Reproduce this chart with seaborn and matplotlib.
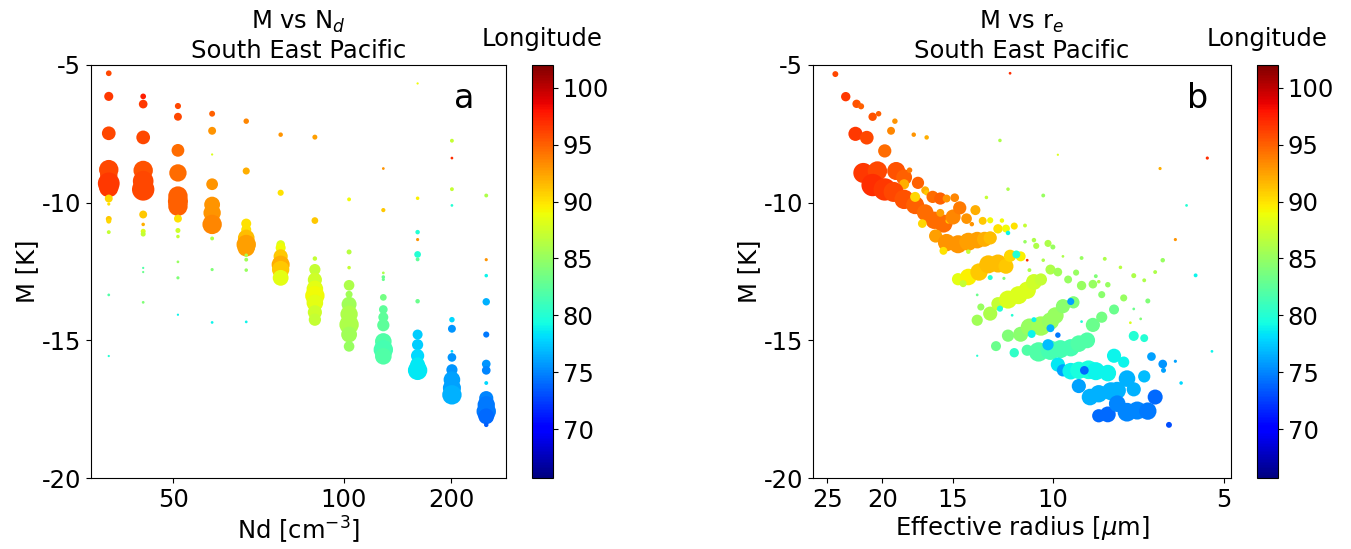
import numpy as np
import pandas as pd
import matplotlib
matplotlib.use("Agg")
import matplotlib.pyplot as plt
import matplotlib.ticker as mticker
import seaborn as sns

plt.rcParams['axes.unicode_minus'] = False
plt.rcParams['font.family'] = ['DejaVu Sans']

# ---------------- data: panel a (M vs Nd) ----------------
nd_bins = [41.1, 45.5, 50.8, 57.1, 64.8, 74.5, 86.8, 102.9, 124.7, 155.5, 201.5, 275.7]

# per Nd bin: (M, count-size, longitude)
a_bin0 = [(-5.30, 13, 96), (-6.14, 33, 96.5), (-7.48, 75, 96), (-8.80, 150, 96), (-9.00, 120, 96),
          (-9.30, 190, 96.5), (-9.45, 150, 96.5), (-9.85, 25, 90.5), (-10.05, 4, 90), (-10.59, 14, 91),
          (-10.67, 10, 90.5), (-11.07, 6, 87), (-13.35, 3, 82), (-15.57, 2, 80)]
a_bin1 = [(-6.14, 13, 97.5), (-6.42, 30, 96.5), (-7.63, 75, 96), (-8.83, 150, 95.5), (-9.22, 170, 96),
          (-9.52, 200, 96), (-10.43, 25, 91), (-10.79, 5, 92), (-11.04, 10, 88), (-11.14, 10, 87),
          (-12.37, 2, 82), (-12.52, 2, 83), (-13.62, 3, 84)]
a_bin2 = [(-6.49, 15, 96), (-6.88, 25, 96), (-8.10, 65, 94.5), (-8.92, 120, 94.5), (-9.76, 150, 95),
          (-9.95, 160, 95), (-10.13, 150, 95), (-10.58, 25, 90), (-11.01, 10, 87.5), (-11.23, 5, 87),
          (-12.15, 3, 85), (-12.73, 4, 84), (-14.07, 2, 79)]
a_bin3 = [(-6.77, 14, 95), (-7.39, 25, 93), (-8.25, 2, 88), (-9.33, 55, 93), (-10.07, 100, 93),
          (-10.37, 120, 93), (-10.79, 150, 93.5), (-11.30, 6, 86), (-12.43, 4, 84), (-14.35, 3, 79)]
a_bin4 = [(-7.04, 12, 93.5), (-8.85, 20, 92), (-10.76, 40, 90), (-10.98, 40, 90), (-11.28, 110, 91.5),
          (-11.52, 150, 92.5), (-11.64, 120, 92.5), (-11.91, 5, 86), (-12.07, 6, 85.5), (-12.45, 5, 85),
          (-14.33, 3, 79)]
a_bin5 = [(-7.53, 8, 93), (-9.64, 15, 90), (-11.52, 30, 88), (-11.64, 40, 89), (-11.95, 80, 91),
          (-12.25, 130, 92), (-12.43, 120, 91), (-12.73, 100, 88.5)]
a_bin6 = [(-7.62, 10, 92.5), (-10.65, 18, 91), (-12.03, 8, 87), (-12.43, 50, 87), (-12.80, 80, 87.5),
          (-13.13, 110, 88.5), (-13.38, 150, 89), (-13.64, 110, 88.5), (-13.98, 80, 87.5), (-14.25, 60, 87)]
a_bin7 = [(-9.88, 6, 89), (-11.79, 10, 86.5), (-12.36, 5, 87), (-13.00, 45, 86), (-13.33, 20, 85.5),
          (-13.69, 90, 85.5), (-14.05, 120, 86), (-14.43, 150, 86), (-14.79, 100, 85.5), (-15.22, 45, 85)]
a_bin8 = [(-8.76, 3, 93), (-10.27, 7, 91), (-12.55, 3, 86), (-12.70, 5, 83), (-12.79, 4, 83),
          (-13.44, 18, 83.5), (-13.88, 30, 82.5), (-14.16, 40, 82.5), (-14.45, 60, 82.5), (-15.04, 110, 82),
          (-15.34, 150, 81.5), (-15.58, 110, 82)]
a_bin9 = [(-5.67, 2, 89), (-9.84, 5, 89.5), (-11.07, 8, 80), (-11.34, 4, 93), (-11.88, 18, 80),
          (-12.06, 6, 82.5), (-13.58, 8, 83), (-14.79, 40, 77.5), (-15.16, 50, 77.5), (-15.56, 70, 78),
          (-15.89, 90, 78.5), (-16.09, 150, 78.5)]
a_bin10 = [(-7.75, 6, 87), (-8.38, 3, 97), (-9.51, 6, 87), (-10.10, 3, 80), (-14.25, 12, 78),
           (-14.58, 25, 75.5), (-15.40, 3, 78), (-15.62, 30, 75.5), (-16.07, 50, 75.5), (-16.43, 110, 76),
           (-16.73, 130, 76), (-16.98, 150, 76.5)]
a_bin11 = [(-9.74, 6, 86), (-12.07, 4, 93), (-12.65, 5, 79), (-13.60, 22, 76.5), (-14.79, 15, 74.5),
           (-15.86, 30, 75.5), (-16.09, 30, 75), (-16.55, 6, 78), (-17.10, 80, 75), (-17.34, 120, 74.5),
           (-17.58, 150, 74.5), (-17.76, 100, 74), (-18.07, 8, 73.5)]
a_bins = [a_bin0, a_bin1, a_bin2, a_bin3, a_bin4, a_bin5, a_bin6, a_bin7, a_bin8, a_bin9, a_bin10, a_bin11]

# ---------------- data: panel b (M vs re) ----------------
# (re [um], M [K], count-size, longitude)
b_points = [
    (24.2, -5.33, 14, 96), (23.2, -6.15, 35, 96.5), (22.2, -6.41, 28, 95.5), (21.8, -6.50, 15, 95),
    (20.8, -6.88, 28, 95.5), (20.3, -6.77, 12, 95), (19.0, -7.04, 12, 93), (19.3, -7.39, 25, 93.5),
    (22.3, -7.50, 80, 96.5), (21.3, -7.64, 75, 96), (17.6, -7.53, 8, 93), (16.7, -7.63, 8, 92),
    (19.8, -8.12, 70, 94.5), (12.4, -7.74, 5, 86), (11.9, -5.30, 3, 97), (9.80, -8.26, 2, 88),
    (5.34, -8.38, 4, 97), (6.47, -8.76, 4, 92), (5.81, -10.10, 3, 80), (6.08, -11.34, 4, 93),
    (5.60, -12.64, 6, 79), (5.24, -15.40, 3, 79), (6.08, -15.76, 4, 76), (5.94, -16.55, 5, 78),
    (6.38, -16.09, 10, 76), (6.24, -18.07, 14, 73),
    # band 1
    (21.6, -8.92, 160, 96.5), (20.4, -8.85, 150, 96), (20.8, -9.36, 200, 97), (19.8, -9.52, 200, 96.5),
    (18.9, -8.85, 130, 95.5), (18.3, -9.08, 100, 95), (17.9, -8.82, 12, 94), (18.3, -9.33, 40, 92),
    (19.1, -9.61, 160, 96), (18.3, -9.88, 150, 95.5), (17.3, -9.28, 60, 95), (17.5, -10.09, 130, 95),
    (16.8, -9.55, 25, 92), (16.7, -9.64, 12, 91), (16.3, -9.79, 60, 94.5), (15.8, -9.85, 60, 95),
    (15.4, -9.85, 25, 93), (14.9, -9.82, 30, 93.5), (16.8, -10.36, 110, 94.5), (16.2, -10.64, 120, 94.5),
    (15.6, -10.76, 130, 94.5), (15.8, -10.37, 25, 92.5), (15.3, -10.66, 12, 91), (17.0, -10.76, 30, 90.5),
    (15.0, -10.52, 90, 93.5), (14.6, -10.19, 70, 94), (14.2, -10.58, 45, 93), (13.7, -10.27, 40, 92),
    (13.3, -10.66, 25, 91), (13.9, -10.78, 8, 93), (17.5, -9.79, 40, 90.5),
    # band 2
    (16.1, -11.21, 70, 92.5), (15.4, -11.45, 120, 93), (14.7, -11.51, 130, 93), (14.1, -11.42, 130, 92.5),
    (13.6, -11.36, 110, 92.5), (13.2, -11.33, 90, 92), (12.9, -11.28, 70, 91.5), (15.6, -11.75, 25, 90),
    (14.1, -11.78, 8, 87), (12.9, -10.64, 15, 89), (12.5, -10.95, 35, 90), (12.1, -10.94, 25, 89),
    (11.7, -10.85, 20, 90), (12.3, -10.65, 8, 89), (11.2, -10.83, 6, 87), (12.0, -11.10, 8, 79),
    (13.1, -9.81, 5, 87), (12.0, -9.51, 5, 86), (10.4, -9.74, 6, 85),
    # band 3
    (14.7, -12.78, 60, 88.5), (14.1, -12.70, 110, 89.5), (13.5, -12.52, 120, 91), (13.0, -12.24, 130, 91.5),
    (12.5, -12.21, 130, 91.5), (12.1, -12.31, 90, 91), (11.9, -11.93, 60, 90.5), (11.4, -11.95, 40, 89.5),
    (11.6, -11.88, 25, 80), (12.9, -12.72, 10, 80), (14.4, -12.94, 20, 87), (12.2, -12.75, 4, 84),
    (11.2, -11.42, 5, 85), (10.8, -11.36, 8, 86), (10.7, -11.57, 15, 86), (10.2, -11.48, 20, 86),
    (10.0, -11.61, 10, 85), (11.1, -12.09, 3, 97), (11.0, -12.45, 6, 86), (10.4, -12.09, 5, 86),
    (10.1, -12.43, 40, 86), (9.8, -12.52, 30, 85.5), (9.6, -11.95, 3, 86), (8.9, -12.01, 6, 85),
    (8.1, -12.04, 6, 86), (7.6, -12.35, 5, 86.5), (9.4, -12.79, 25, 85), (9.1, -12.54, 15, 85),
    (8.4, -12.67, 6, 84), (7.2, -12.65, 10, 86), (6.9, -12.82, 6, 86), (6.6, -12.52, 6, 86),
    (6.4, -12.09, 8, 85), (8.9, -13.01, 35, 85), (8.5, -12.96, 30, 85), (8.3, -12.87, 5, 86),
    (8.0, -12.98, 12, 85),
    # band 4
    (13.6, -14.27, 50, 85.5), (12.9, -14.03, 80, 86), (12.5, -13.67, 70, 87), (12.0, -13.52, 130, 88),
    (11.5, -13.36, 130, 88), (11.1, -13.18, 120, 88), (10.8, -12.88, 100, 87.5), (10.5, -12.79, 60, 87),
    (13.4, -13.79, 20, 85), (12.4, -13.85, 15, 80), (11.8, -14.09, 3, 80), (13.6, -13.35, 3, 83),
    (8.2, -13.34, 20, 84.5), (7.5, -13.46, 20, 85), (6.8, -13.57, 10, 84),
    # band 5
    (12.0, -14.83, 60, 84), (11.4, -14.78, 90, 84.5), (11.0, -14.52, 120, 85), (10.5, -14.48, 150, 85.5),
    (10.1, -14.30, 120, 85), (9.9, -14.10, 110, 85), (9.6, -13.76, 80, 84.5), (9.2, -13.62, 60, 84),
    (9.3, -13.59, 20, 76), (10.1, -14.56, 25, 76.5), (9.8, -14.81, 12, 74.5), (10.9, -14.77, 25, 79),
    (10.8, -14.25, 10, 79), (12.6, -15.21, 40, 83), (11.7, -15.45, 35, 80.5), (11.1, -15.36, 50, 82),
    (8.5, -14.44, 80, 83), (8.2, -14.16, 50, 83.5), (7.8, -13.88, 40, 83), (7.2, -13.86, 3, 83),
    (7.0, -14.22, 3, 84), (7.3, -14.36, 3, 88), (8.9, -14.32, 3, 80),
    # band 6
    (10.6, -15.42, 150, 82), (10.1, -15.36, 150, 81.5), (9.7, -15.32, 130, 81.5), (9.3, -15.27, 120, 81.5),
    (9.0, -15.12, 110, 82), (8.7, -15.00, 100, 82), (10.2, -15.16, 50, 77), (13.6, -15.56, 2, 80),
    (7.2, -14.84, 40, 80), (6.9, -14.92, 25, 80),
    # band 7
    (9.8, -15.88, 80, 78.5), (9.6, -16.09, 60, 76), (9.3, -16.12, 110, 79), (9.0, -16.09, 120, 79.5),
    (8.65, -16.07, 140, 79.5), (8.4, -16.12, 130, 79), (8.0, -16.19, 110, 79), (8.8, -16.09, 30, 74),
    (7.8, -15.56, 80, 79), (7.5, -15.79, 50, 79), (6.7, -15.59, 30, 76), (6.4, -15.86, 30, 75.5),
    # band 8
    (9.0, -16.66, 80, 76), (8.6, -17.06, 110, 76.5), (8.3, -16.94, 120, 76.5), (7.9, -16.85, 130, 76.5),
    (7.7, -16.82, 120, 76.5), (7.4, -16.39, 110, 76.5), (7.2, -16.78, 80, 76.5), (6.9, -16.31, 60, 77),
    # band 9
    (8.3, -17.74, 70, 74), (8.0, -17.69, 100, 74), (7.7, -17.30, 110, 75), (7.4, -17.61, 140, 75),
    (7.1, -17.55, 130, 75), (6.8, -17.57, 120, 74.5), (6.6, -17.06, 90, 74),
]

lon_min, lon_max = 65.7, 102.0
cbar_ticks = [70, 75, 80, 85, 90, 95, 100]
y_ticks = [-5, -10, -15, -20]
y_ticklabels = ["-5", "-10", "-15", "-20"]
nd_ticks = [50, 100, 200]
re_ticks = [25, 20, 15, 10, 5]

# build data frames
rows = []
for nd, pts in zip(nd_bins, a_bins):
    for m, c, lon in pts:
        rows.append((nd, m, c, lon))
df_a = pd.DataFrame(rows, columns=["Nd", "M", "cnt", "lon"])
df_b = pd.DataFrame(b_points, columns=["re", "M", "cnt", "lon"])

cnt_rng = (2, 200)
area_rng = (2.6, 260)
jet = matplotlib.colormaps["jet"]

fig = plt.figure(figsize=(13.51, 5.49), dpi=100)
W, H = 1351.0, 549.0
bot = 1 - 478 / H
hgt = (478 - 65) / H
ax1 = fig.add_axes([91 / W, bot, 415 / W, hgt])
cax1 = fig.add_axes([532 / W, bot, 21 / W, hgt])
ax2 = fig.add_axes([813 / W, bot, 418 / W, hgt])
cax2 = fig.add_axes([1257 / W, bot, 21 / W, hgt])

common = dict(hue="lon", palette=jet, hue_norm=(lon_min, lon_max), size="cnt",
              sizes=area_rng, size_norm=cnt_rng, linewidth=0, legend=False)

sns.scatterplot(data=df_a, x="Nd", y="M", ax=ax1, **common)
sns.scatterplot(data=df_b, x="re", y="M", ax=ax2, **common)


def fwd(x):
    x = np.clip(np.asarray(x, dtype=float), 1e-6, None)
    return -np.power(x, -2.0 / 3.0)


def inv(y):
    y = np.clip(-np.asarray(y, dtype=float), 1e-9, None)
    return np.power(y, -1.5)


ax1.set_xscale("function", functions=(fwd, inv))
ax1.set_xlim(39.1, 342)
ax1.xaxis.set_major_locator(mticker.FixedLocator(nd_ticks))
ax1.xaxis.set_major_formatter(mticker.FixedFormatter([str(t) for t in nd_ticks]))
ax1.xaxis.set_minor_locator(mticker.NullLocator())

ax2.set_xscale("log")
ax2.set_xlim(26.5, 4.85)
ax2.xaxis.set_major_locator(mticker.FixedLocator(re_ticks))
ax2.xaxis.set_major_formatter(mticker.FixedFormatter([str(t) for t in re_ticks]))
ax2.xaxis.set_minor_locator(mticker.NullLocator())

fs = 17.5
for ax in (ax1, ax2):
    ax.set_ylim(-20, -5)
    ax.set_yticks(y_ticks)
    ax.set_yticklabels(y_ticklabels)
    ax.tick_params(labelsize=fs)
    ax.set_ylabel("M [K]", fontsize=fs, labelpad=2)

ax1.set_xlabel("Nd [cm$^{-3}$]", fontsize=fs, labelpad=2)
ax2.set_xlabel("Effective radius [$\\mu$m]", fontsize=fs, labelpad=2)
ax1.set_title("M vs N$_d$\nSouth East Pacific", fontsize=fs, pad=5)
ax2.set_title("M vs r$_e$\nSouth East Pacific", fontsize=fs, pad=5)
ax1.text(0.90, 0.92, "a", transform=ax1.transAxes, fontsize=24, ha="center", va="center")
ax2.text(0.92, 0.92, "b", transform=ax2.transAxes, fontsize=24, ha="center", va="center")

norm = matplotlib.colors.Normalize(vmin=lon_min, vmax=lon_max)
sm = matplotlib.cm.ScalarMappable(norm=norm, cmap=jet)
for cax in (cax1, cax2):
    cb = fig.colorbar(sm, cax=cax, ticks=cbar_ticks)
    cb.ax.tick_params(labelsize=fs)
    cb.ax.set_title("Longitude", fontsize=fs, pad=14)

fig.savefig("out.png", dpi=100)
